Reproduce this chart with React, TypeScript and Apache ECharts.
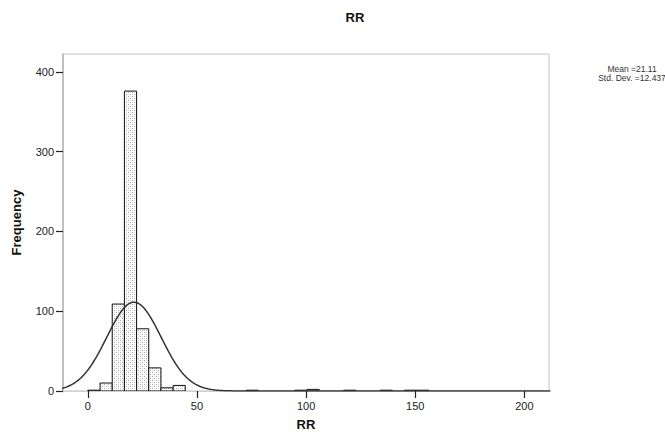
import React, { useEffect, useRef } from "react";
import * as echarts from "echarts";

// Histogram bins (RR), starting at binStart, each binWidth wide
const binStart = 0;
const binWidth = 5.58;
const frequencies = [1, 10, 109, 376, 78, 29, 4, 7, 0, 0, 0, 0, 0, 1, 0, 0, 0, 1, 2, 0, 0, 1, 0, 0, 1, 0, 1, 1];

// Fitted normal curve parameters (from the legend)
const meanVal = 21.11;
const sdVal = 12.437;

const xTicks = [0, 50, 100, 150, 200];
const yTicks = [0, 100, 200, 300, 400];
const xMin = -11.4;
const xMax = 211.3;
const yMax = 422.5;

const FONT = "'Liberation Sans', Arial, sans-serif";

export default function App() {
  const ref = useRef<HTMLDivElement>(null);

  useEffect(() => {
    if (!ref.current) return;
    const chart = echarts.init(ref.current, null, { renderer: "svg" });

    // dotted fill pattern
    const cv = document.createElement("canvas");
    cv.width = 4;
    cv.height = 4;
    const ctx = cv.getContext("2d")!;
    ctx.fillStyle = "#ffffff";
    ctx.fillRect(0, 0, 4, 4);
    ctx.fillStyle = "#a8a8a8";
    ctx.fillRect(0, 0, 1, 1);
    ctx.fillRect(2, 2, 1, 1);
    ctx.fillStyle = "#d8d8d8";
    ctx.fillRect(2, 0, 1, 1);
    ctx.fillRect(0, 2, 1, 1);
    const pattern = { image: cv, repeat: "repeat" };

    const barData: number[][] = [];
    frequencies.forEach((f, i) => {
      if (f > 0) {
        const lo = binStart + i * binWidth;
        barData.push([lo, lo + binWidth, f]);
      }
    });

    const n = frequencies.reduce((a, b) => a + b, 0);
    const curve: number[][] = [];
    for (let x = Math.floor(xMin); x <= Math.ceil(xMax); x += 0.5) {
      const z = (x - meanVal) / sdVal;
      const y = (n * binWidth) / (sdVal * Math.sqrt(2 * Math.PI)) * Math.exp(-0.5 * z * z);
      curve.push([x, y]);
    }

    chart.setOption({
      animation: false,
      textStyle: { fontFamily: FONT },
      grid: {
        left: 63,
        right: 116,
        top: 54,
        bottom: 45,
        show: true,
        borderColor: "#d8d8d8",
        borderWidth: 1.5,
        backgroundColor: "#fff",
      },
      title: {
        text: "RR",
        left: 350,
        top: 6,
        textAlign: "center",
        textStyle: { fontFamily: FONT, fontSize: 13, fontWeight: "bold", color: "#111" },
      },
      graphic: [
        {
          type: "text",
          x: 632,
          y: 64,
          style: {
            text: "Mean =21.11\nStd. Dev. =12.437",
            fontFamily: FONT,
            fontSize: 8.5,
            lineHeight: 9,
            fill: "#333",
            align: "center",
          },
        },
      ],
      xAxis: {
        type: "value",
        min: xMin,
        max: xMax,
        name: "RR",
        nameLocation: "middle",
        nameGap: 27,
        nameTextStyle: { fontFamily: FONT, fontSize: 13, fontWeight: "bold", color: "#111" },
        splitLine: { show: false },
        axisLine: { show: true, onZero: false, lineStyle: { color: "#cfcfcf", width: 1 } },
        axisTick: { show: true, length: 7, customValues: xTicks, lineStyle: { color: "#222", width: 1.2 } },
        axisLabel: { customValues: xTicks, fontFamily: FONT, fontSize: 11, color: "#222", margin: 9 },
      },
      yAxis: {
        type: "value",
        min: 0,
        max: yMax,
        name: "Frequency",
        nameLocation: "middle",
        nameGap: 40,
        nameRotate: 90,
        nameTextStyle: { fontFamily: FONT, fontSize: 13, fontWeight: "bold", color: "#111" },
        splitLine: { show: false },
        axisLine: { show: true, onZero: false, lineStyle: { color: "#b5b5b5", width: 1.5 } },
        axisTick: { show: true, length: 7, customValues: yTicks, lineStyle: { color: "#222", width: 1.2 } },
        axisLabel: { customValues: yTicks, fontFamily: FONT, fontSize: 11, color: "#222", margin: 9 },
      },
      series: [
        {
          type: "custom",
          data: barData,
          encode: { x: [0, 1], y: 2 },
          clip: true,
          renderItem: (params: any, api: any) => {
            const lo = api.value(0);
            const hi = api.value(1);
            const f = api.value(2);
            const p1 = api.coord([lo, f]);
            const p2 = api.coord([hi, 0]);
            return {
              type: "rect",
              shape: { x: p1[0], y: p1[1], width: p2[0] - p1[0], height: p2[1] - p1[1] },
              style: { fill: pattern, stroke: "#111", lineWidth: 1 },
            };
          },
        },
        {
          type: "line",
          data: curve,
          showSymbol: false,
          symbol: "none",
          smooth: false,
          clip: true,
          lineStyle: { color: "#333", width: 1.5 },
          z: 5,
        },
      ],
    });

    return () => chart.dispose();
  }, []);

  return (
    <div
      ref={ref}
      style={{ position: "fixed", left: 0, top: 0, width: 665, height: 436, background: "#fff" }}
    />
  );
}
